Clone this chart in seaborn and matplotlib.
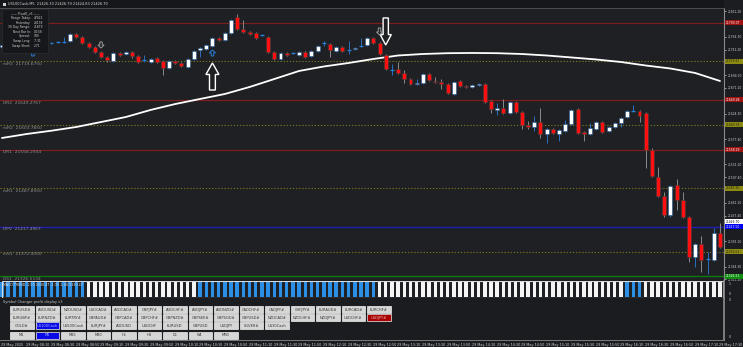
import matplotlib
matplotlib.use("Agg")
import matplotlib.pyplot as plt
from matplotlib.patches import Rectangle, FancyArrow
import numpy as np
import pandas as pd
import seaborn as sns

# ---------------- data ----------------
opens = [21745.9, 21749.6, 21745.0, 21742.3, 21745.9, 21744.1, 21760.6, 21755.1, 21753.3, 21754.2,
         21755.1, 21756.9, 21769.7, 21764.2, 21753.3, 21745.9, 21736.8, 21727.7, 21720.3, 21735.0,
         21733.1, 21736.8, 21729.5, 21722.2, 21718.5, 21725.8, 21720.3, 21707.6, 21720.3, 21716.7,
         21709.4, 21724.0, 21740.5, 21742.3, 21747.8, 21762.4, 21758.7, 21771.5, 21800.8, 21778.8,
         21773.4, 21771.5, 21767.9, 21764.2, 21736.8, 21724.0, 21735.0, 21735.0, 21731.3, 21736.8,
         21729.5, 21738.6, 21753.3, 21751.4, 21738.6, 21745.9, 21740.5, 21742.3, 21747.8, 21749.6,
         21762.4, 21753.3, 21731.3, 21703.9, 21705.7, 21698.4, 21687.4, 21678.3, 21680.1, 21696.6,
         21683.8, 21681.9, 21678.3, 21660.0, 21683.8, 21674.6, 21672.8, 21676.5, 21678.3, 21647.2,
         21630.8, 21634.4, 21625.3, 21645.4, 21627.1, 21603.4, 21599.7, 21608.8, 21586.9, 21596.0,
         21586.9, 21592.4, 21605.2, 21632.6, 21590.6, 21586.9, 21596.0, 21608.8, 21592.4, 21599.7,
         21607.0, 21617.9, 21628.9, 21628.9, 21625.3, 21557.7, 21508.3, 21473.6, 21438.8, 21493.7,
         21466.3, 21435.2, 21362.0, 21385.8, 21358.4, 21356.6, 21406.0]
highs = [21751.4, 21751.4, 21746.8, 21745.9, 21747.8, 21762.4, 21762.4, 21756.9, 21755.1, 21756.0,
         21764.2, 21771.5, 21771.5, 21766.0, 21755.1, 21747.8, 21738.6, 21729.5, 21736.8, 21736.8,
         21738.6, 21738.6, 21731.3, 21731.3, 21725.8, 21727.7, 21722.2, 21722.2, 21722.2, 21718.5,
         21725.8, 21740.5, 21745.9, 21751.4, 21764.2, 21764.2, 21773.4, 21797.1, 21806.3, 21795.3,
         21775.2, 21773.4, 21769.7, 21766.0, 21738.6, 21736.8, 21736.8, 21736.8, 21738.6, 21738.6,
         21740.5, 21749.6, 21756.9, 21753.3, 21747.8, 21747.8, 21756.9, 21745.9, 21762.4, 21764.2,
         21764.2, 21755.1, 21733.1, 21714.9, 21718.5, 21703.9, 21689.2, 21687.4, 21698.4, 21698.4,
         21691.1, 21687.4, 21680.1, 21683.8, 21685.6, 21676.5, 21678.3, 21680.1, 21680.1, 21649.1,
         21643.6, 21650.9, 21647.2, 21647.2, 21628.9, 21610.7, 21619.8, 21634.4, 21597.9, 21597.9,
         21596.0, 21612.5, 21632.6, 21634.4, 21592.4, 21607.0, 21610.7, 21610.7, 21601.5, 21608.8,
         21617.9, 21630.8, 21639.9, 21630.8, 21627.1, 21561.3, 21526.6, 21480.9, 21493.7, 21504.6,
         21480.9, 21437.0, 21387.6, 21400.5, 21371.2, 21415.0, 21424.2]
lows = [21744.1, 21742.3, 21743.2, 21740.5, 21740.5, 21742.3, 21753.3, 21751.4, 21751.4, 21752.4,
        21753.3, 21755.1, 21762.4, 21751.4, 21744.1, 21735.0, 21725.8, 21718.5, 21718.5, 21729.5,
        21731.3, 21725.8, 21716.7, 21718.5, 21716.7, 21716.7, 21694.8, 21705.7, 21714.9, 21709.4,
        21707.6, 21722.2, 21727.7, 21740.5, 21745.9, 21756.9, 21756.9, 21769.7, 21777.0, 21771.5,
        21767.9, 21760.6, 21766.0, 21735.0, 21722.2, 21722.2, 21729.5, 21733.1, 21729.5, 21725.8,
        21727.7, 21736.8, 21747.8, 21727.7, 21736.8, 21736.8, 21733.1, 21740.5, 21745.9, 21747.8,
        21751.4, 21731.3, 21703.9, 21694.8, 21696.6, 21680.1, 21676.5, 21676.5, 21678.3, 21683.8,
        21680.1, 21669.2, 21660.0, 21658.2, 21672.8, 21671.0, 21671.0, 21674.6, 21643.6, 21625.3,
        21621.6, 21623.5, 21623.5, 21625.3, 21596.0, 21596.0, 21592.4, 21579.6, 21570.5, 21586.9,
        21574.1, 21590.6, 21603.4, 21586.9, 21574.1, 21585.1, 21594.2, 21588.7, 21590.6, 21597.9,
        21599.7, 21616.1, 21627.1, 21608.8, 21524.8, 21508.3, 21471.7, 21435.2, 21435.2, 21448.0,
        21433.4, 21352.9, 21343.8, 21334.6, 21331.0, 21354.7, 21378.5]
closes = [21749.6, 21744.1, 21745.0, 21745.0, 21742.3, 21760.6, 21755.1, 21753.3, 21753.3, 21754.2,
          21755.1, 21769.7, 21764.2, 21753.3, 21745.9, 21736.8, 21727.7, 21722.2, 21735.0, 21731.3,
          21736.8, 21729.5, 21718.5, 21722.2, 21724.0, 21718.5, 21707.6, 21720.3, 21716.7, 21711.2,
          21724.0, 21738.6, 21744.1, 21749.6, 21762.4, 21758.7, 21771.5, 21795.3, 21778.8, 21773.4,
          21769.7, 21762.4, 21767.9, 21736.8, 21724.0, 21735.0, 21731.3, 21735.0, 21736.8, 21727.7,
          21738.6, 21747.8, 21753.3, 21740.5, 21745.9, 21738.6, 21740.5, 21744.1, 21747.8, 21762.4,
          21753.3, 21733.1, 21705.7, 21703.9, 21698.4, 21687.4, 21678.3, 21680.1, 21696.6, 21685.6,
          21681.9, 21678.3, 21661.9, 21681.9, 21674.6, 21672.8, 21676.5, 21678.3, 21645.4, 21632.6,
          21634.4, 21625.3, 21645.4, 21627.1, 21603.4, 21599.7, 21608.8, 21586.9, 21596.0, 21588.7,
          21594.2, 21605.2, 21630.8, 21588.7, 21586.9, 21597.9, 21608.8, 21590.6, 21599.7, 21607.0,
          21616.1, 21628.9, 21628.9, 21619.8, 21557.7, 21510.1, 21473.6, 21438.8, 21491.8, 21466.3,
          21435.2, 21362.0, 21385.8, 21356.6, 21358.4, 21406.0, 21380.3]

ma_bar = [0, 4, 8, 12, 16, 20, 24, 28, 32, 36, 40, 44, 48, 52, 56, 60, 64, 68, 72, 76,
          80, 84, 88, 92, 96, 100, 104, 108, 112, 116]
ma_vals = [21579.6, 21586.9, 21592.9, 21599.7, 21608.8, 21617.9, 21630.8, 21641.7, 21650.9, 21660.0,
           21672.8, 21687.4, 21702.1, 21710.3, 21716.7, 21724.0, 21730.4, 21733.1, 21734.6, 21735.0,
           21734.6, 21733.1, 21730.4, 21726.8, 21723.1, 21718.5, 21712.1, 21706.6, 21698.4, 21683.8]

level_names = ["DR3", "mR3", "DR2", "mR2", "DR1", "mR1", "DPV", "mS1", "DS1"]
level_vals = [21790.0733, 21719.6750, 21649.2767, 21603.7850, 21558.2934,
              21487.8950, 21417.4967, 21372.0050, 21326.5134]
# the DR3 caption sits under the info panel in the original, so it is not shown
hidden_captions = ["DR3"]

price_ticks = [21811.20, 21764.30, 21741.20, 21694.30, 21671.20, 21624.30, 21577.40,
               21531.20, 21507.40, 21461.20, 21437.40, 21391.20, 21344.30, 21321.20]
last_price = 21426.70

# trend strip: (state, number of bars) ; 1 = blue, 0 = white
trend_runs = [(1, 14), (0, 18), (1, 29), (0, 40), (1, 3), (0, 13)]

tick_bars = [0, 4, 8, 12, 16, 20, 24, 28, 32, 36, 40, 44, 48, 52, 56,
             60, 64, 68, 72, 76, 80, 84, 88, 92, 96, 100, 104, 108, 112, 116]
tick_labels = ["29 May 2025", "29 May 08:10", "29 May 08:30", "29 May 08:50", "29 May 09:10",
               "29 May 09:30", "29 May 09:50", "29 May 10:10", "29 May 10:30", "29 May 10:50",
               "29 May 11:10", "29 May 11:30", "29 May 11:50", "29 May 12:10", "29 May 12:30",
               "29 May 12:50", "29 May 13:10", "29 May 13:30", "29 May 13:50", "29 May 14:10",
               "29 May 14:30", "29 May 14:50", "29 May 15:10", "29 May 15:30", "29 May 15:50",
               "29 May 16:10", "29 May 16:30", "29 May 16:50", "29 May 17:10", "29 May 17:30"]

button_rows = [
    ["EURUSD#", "AUDUSD#", "NZDUSD#", "USDCAD#", "AUDCAD#", "GBPJPY#", "AUDCHF#", "AUDJPY#",
     "AUDNZD#", "CADCHF#", "CADJPY#", "CHFJPY#", "EURAUD#", "EURCAD#", "EURCHF#"],
    ["EURGBP#", "EURNZD#", "EURTRY#", "GBPAUD#", "GBPCAD#", "GBPCHF#", "GBPNZD#", "GBPSEK#",
     "GBPSGD#", "GBPUSD#", "NZDCAD#", "NZDCHF#", "NZDJPY#", "USDCHF#", "USDJPY#"],
    ["GOLD#", "US100Cash", "US500Cash", "EURJPY#", "AUDUSD", "USDCHF", "EURUSD", "GBPUSD",
     "USDJPY", "SILVER#", "US30Cash"],
    ["M1", "M5", "M15", "M30", "H1", "H4", "D1", "W1", "MN1"],
]
info_keys = ["Range Today:", "Yesterday:", "30 Day Range:", "Next Bar In:", "Spread:", "Swap Long:", "Swap Short:"]
info_vals = ["47421", "23178", "41879", "04:56", "180", "-7.31", "2.71"]

# ---------------- style ----------------
sns.set_theme(style="dark")
plt.rcParams['font.family'] = ['DejaVu Sans']
BG = '#1e2024'
W, H = 743, 347
fig = plt.figure(figsize=(W / 100, H / 100), dpi=100)
fig.patch.set_facecolor('#1b1d20')


def px_axes(x0, y0, x1, y1):
    return fig.add_axes([x0 / W, 1 - y1 / H, (x1 - x0) / W, (y1 - y0) / H])


XL = (-0.32, 116.65)
n = len(opens)
df = pd.DataFrame({"bar": np.arange(n), "open": opens, "high": highs, "low": lows, "close": closes})
bull = df[df.close > df.open]
bear = df[df.close < df.open]
doji = df[df.close == df.open]

# ---------------- main price panel ----------------
ax = px_axes(0, 8, 724, 280)
ax.set_facecolor(BG)
ax.set_xlim(*XL)
ax.set_ylim(21320.0, 21817.2)
for s in ['bottom', 'left']:
    ax.spines[s].set_visible(False)
ax.spines['right'].set_color('#8a8a8a')
ax.spines['right'].set_linewidth(0.8)
ax.spines['top'].set_color('#555555')
ax.spines['top'].set_linewidth(0.6)
ax.grid(False)

# levels
for nm, v in zip(level_names, level_vals):
    if nm.startswith('DR'):
        ax.axhline(v, color='#7a1e1e', lw=0.9, zorder=1)
    elif nm.startswith('m'):
        ax.axhline(v, color='#77721e', lw=0.8, ls=(0, (1.2, 1.6)), zorder=1)
    elif nm == 'DPV':
        ax.axhline(v, color='#1f1fb4', lw=1.0, zorder=1)
    else:
        ax.axhline(v, color='#0e7a0e', lw=1.0, zorder=1)
    if nm not in hidden_captions:
        ax.text(0.004, v - 1.5, f"{nm}  {v:.4f}", transform=ax.get_yaxis_transform(),
                va='top', ha='left', fontsize=3.2, color='#8e8e8e', zorder=2)

# moving average
sns.lineplot(x=ma_bar, y=ma_vals, ax=ax, color='white', lw=1.3, zorder=3)

# candles
ax.vlines(bear.bar, bear.low, bear.high, color='#8a8a8a', lw=0.7, zorder=4)
ax.vlines(bull.bar, bull.low, bull.high, color='#2a6fc0', lw=0.7, zorder=4)
ax.vlines(doji.bar, doji.low, doji.high, color='#2a6fc0', lw=0.7, zorder=4)
ax.bar(bull.bar, bull.close - bull.open, bottom=bull.open, width=0.64,
       color='white', edgecolor='#1d4f8a', lw=0.4, zorder=5)
ax.bar(bear.bar, bear.open - bear.close, bottom=bear.close, width=0.64,
       color='#ff1010', edgecolor='#3a3a3a', lw=0.4, zorder=5)
ax.hlines(doji.open, doji.bar - 0.32, doji.bar + 0.32, color='#2a7fd8', lw=0.9, zorder=5)


# signal arrows
def outline_arrow(x, y0, y1, w, hw, hl, col, lw):
    a = FancyArrow(x, y0, 0, y1 - y0, width=w, head_width=hw, head_length=hl,
                   length_includes_head=True, facecolor=BG, edgecolor=col, lw=lw, zorder=6)
    ax.add_patch(a)


outline_arrow(34, 21667.3, 21716.7, 0.95, 2.1, 21.0, 'white', 1.0)
outline_arrow(62, 21799.0, 21749.6, 0.85, 1.8, 19.0, 'white', 1.0)
outline_arrow(34, 21729.5, 21740.5, 0.4, 1.0, 5.5, '#2a7fd8', 0.7)
outline_arrow(5, 21729.5, 21740.5, 0.4, 1.0, 5.5, '#2a7fd8', 0.7)
outline_arrow(16, 21755.1, 21744.1, 0.4, 1.0, 5.5, '#9a9a9a', 0.7)
outline_arrow(61, 21780.7, 21767.9, 0.4, 1.0, 5.5, '#9a9a9a', 0.7)

# right price scale
ax.yaxis.tick_right()
ax.set_yticks(price_ticks)
ax.set_yticklabels([f"{t:.2f}" for t in price_ticks])
ax.tick_params(axis='y', labelsize=2.2, colors='#cfcfcf', length=1.5, width=0.5, pad=1.0)
ax.set_xticks([])
ax.set_xlabel('')
ax.set_ylabel('')

ytr = ax.get_yaxis_transform()
box_colors = {'DR': ('#a01212', '#ffffff'), 'mR': ('#8c8a10', '#202020'), 'mS': ('#8c8a10', '#202020'),
              'DP': ('#0000f0', '#ffffff'), 'DS': ('#0f8f0f', '#ffffff')}
for nm, v in zip(level_names, level_vals):
    fc, tc = box_colors[nm[:2]]
    ax.add_patch(Rectangle((1.0015, v - 4.8), 18 / 724, 9.6, transform=ytr, facecolor=fc,
                           edgecolor='none', clip_on=False, zorder=8))
    ax.text(1.003, v, f"{v:.2f}", transform=ytr, fontsize=2.2, color=tc, va='center', ha='left',
            clip_on=False, zorder=9)
ax.add_patch(Rectangle((1.0015, last_price - 4.8), 18 / 724, 9.6, transform=ytr, facecolor='white',
                       edgecolor='none', clip_on=False, zorder=8))
ax.text(1.003, last_price, f"{last_price:.2f}", transform=ytr, fontsize=2.2, color='black',
        va='center', ha='left', clip_on=False, zorder=9)

# ---------------- trend strip ----------------
ax2 = px_axes(0, 280.5, 724, 298)
ax2.set_facecolor(BG)
ax2.set_xlim(*XL)
ax2.set_ylim(0, 1)
states = []
for st, cnt in trend_runs:
    states += [st] * cnt
cols = ['#2b8fe6' if s == 1 else '#f4f4f4' for s in states]
ax2.bar(np.arange(len(states)), 0.84, bottom=0.08, width=0.56, color=cols, lw=0)
ax2.add_patch(Rectangle((0.003, 0.02), 0.995, 0.96, transform=ax2.transAxes, fill=False,
                        edgecolor='#d8d8d8', lw=0.8))
for s in ax2.spines.values():
    s.set_visible(False)
ax2.spines['right'].set_visible(True)
ax2.spines['right'].set_color('#8a8a8a')
ax2.set_xticks([])
ax2.set_yticks([])
ax2.text(0.004, 0.72, "MACD TREND -1.00 2330.47 -1.00 -1.00 2330.47", transform=ax2.transAxes,
         fontsize=2.3, color='#e8e8e8', va='center', ha='left')
ax2.text(1.006, 0.78, "1", transform=ax2.transAxes, fontsize=2.3, color='#cfcfcf', va='center')
ax2.text(1.006, 0.25, "0", transform=ax2.transAxes, fontsize=2.3, color='#cfcfcf', va='center')

# ---------------- lower panel with time axis ----------------
ax3 = px_axes(0, 298, 724, 340)
ax3.set_facecolor('#1b1c20')
ax3.set_xlim(*XL)
ax3.set_ylim(0, 1)
for s in ax3.spines.values():
    s.set_visible(False)
ax3.spines['right'].set_visible(True)
ax3.spines['right'].set_color('#8a8a8a')
ax3.spines['bottom'].set_visible(True)
ax3.spines['bottom'].set_color('#8a8a8a')
ax3.spines['bottom'].set_linewidth(0.6)
ax3.set_yticks([])
ax3.set_xticks([t - 0.1 for t in tick_bars])
ax3.set_xticklabels(tick_labels, ha='left')
ax3.tick_params(axis='x', labelsize=2.4, colors='#cfcfcf', length=1.5, width=0.4, pad=0.8)
ax3.text(1.006, 0.95, "0", transform=ax3.transAxes, fontsize=2.3, color='#cfcfcf', va='center')
ax3.text(1.006, 0.07, "0", transform=ax3.transAxes, fontsize=2.3, color='#cfcfcf', va='center')

# ---------------- overlay (header, info box, buttons) ----------------
ov = fig.add_axes([0, 0, 1, 1])
ov.set_xlim(0, W)
ov.set_ylim(H, 0)
ov.axis('off')
ov.patch.set_alpha(0)
ov.add_patch(Rectangle((0, 0), 724, 8, facecolor='#16171a', edgecolor='none'))
ov.add_patch(Rectangle((2.5, 2.5), 3, 3, facecolor='#d0d0d0', edgecolor='none'))
ov.text(8, 4.2, "US100Cash,M5  21426.33 21426.79 21424.83 21426.70", fontsize=2.5,
        color='#d8d8d8', va='center', ha='left')

# info box
ov.add_patch(Rectangle((2, 9), 46, 44, facecolor='#15171a', edgecolor='#303236', lw=0.4, zorder=5))
ov.text(25, 13.2, "—— PivotD_v3 ——", fontsize=2.2, color='#d0d0d0', ha='center', va='center', zorder=6)
for i, (k, v) in enumerate(zip(info_keys, info_vals)):
    yy = 18.0 + i * 4.6
    ov.text(30.5, yy, k, fontsize=2.2, color='#d0d0d0', ha='right', va='center', zorder=6)
    ov.text(33.5, yy, v, fontsize=2.2, color='#d0d0d0', ha='left', va='center', zorder=6)

ov.text(3, 301.5, "Symbol Changer profit display v3", fontsize=2.5, color='#c8c8c8',
        ha='left', va='center')

row_y = [306, 314, 322, 331.5]
for r, labels in enumerate(button_rows):
    for i, lab in enumerate(labels):
        x0 = 10 + 25.5 * i
        fc, tc = '#d6d6d6', '#333333'
        if lab in ("US100Cash", "M5"):
            fc, tc = '#0a0ae6', '#9fb4ff'
        if lab == "USDJPY#":
            fc, tc = '#a80000', '#f0c0c0'
        ov.add_patch(Rectangle((x0, row_y[r]), 23.5, 7, facecolor=fc, edgecolor='#f2f2f2', lw=0.5))
        ov.text(x0 + 11.75, row_y[r] + 3.6, lab, fontsize=2.6, color=tc, ha='center', va='center')

fig.savefig("out.png", dpi=100, facecolor=fig.get_facecolor())
